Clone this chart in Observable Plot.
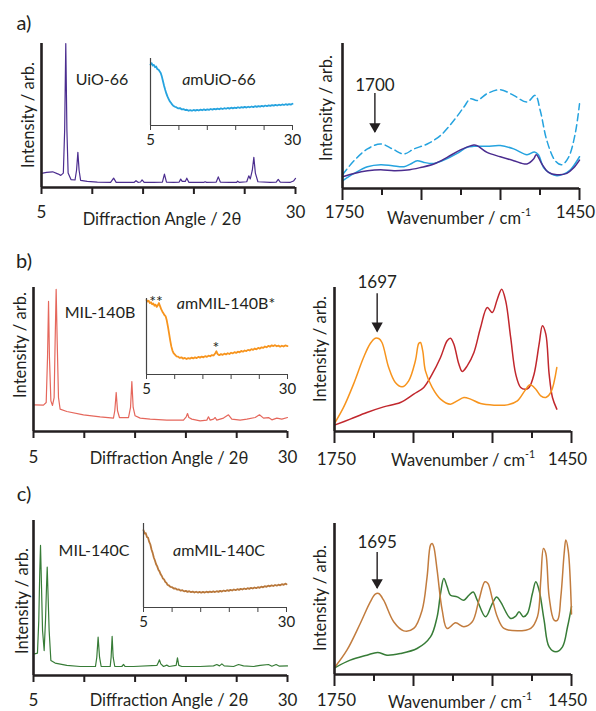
<!DOCTYPE html>
<html><head><meta charset="utf-8">
<script src="https://cdn.jsdelivr.net/npm/d3@7"></script>
<script src="https://cdn.jsdelivr.net/npm/@observablehq/plot@0.6"></script>
<style>
body{margin:0;background:#fff;}
#fig{position:relative;width:596px;height:711px;overflow:hidden;font-family:Lato,"Open Sans",sans-serif;color:#231f20;}
#fig svg{position:absolute;left:0;top:0;}
.lbl{position:absolute;white-space:nowrap;transform:translate(-50%,-50%);line-height:1;font-size:16.5px;}
.rot{transform:translate(-50%,-50%) rotate(-90deg);}
.name{font-size:16px;}
.big{font-size:20px;}
sup{font-size:10.5px;vertical-align:0;position:relative;top:-8px;}
</style></head><body><div id="fig"></div>
<script>
// ---------- DATA ----------
// XRD (2θ, intensity %) 
const xrdUiO66 = [[5,9.8],[5.5,10.5],[6.1,10.9],[6.6,9.5],[6.9,8.4],[7.15,10],[7.28,40],[7.39,100],[7.5,40],[7.62,10],[7.9,5.5],[8.3,5.2],[8.45,12],[8.58,24.4],[8.7,12],[8.85,5],[9.5,4.2],[10.5,3.8],[11.8,3.6],[12.1,6.5],[12.35,3.6],[13.5,3.5],[14.1,3.5],[14.3,4.7],[14.5,3.6],[14.75,3.8],[14.9,5.3],[15.1,3.6],[16,3.5],[16.9,3.8],[17.1,9.3],[17.3,3.8],[18,3.5],[18.55,3.8],[18.7,5.8],[18.85,4.2],[19.15,4.2],[19.3,6.5],[19.5,3.6],[20.5,3.5],[21,3.6],[21.1,4],[21.25,3.6],[22.2,3.8],[22.4,7.4],[22.6,3.8],[23.5,3.5],[24.2,3.6],[24.3,4.4],[24.45,3.6],[25.2,4],[25.4,8.1],[25.55,6],[25.75,12],[25.9,20.9],[26.05,10],[26.3,4],[27.5,3.5],[28.1,3.8],[28.3,5.6],[28.5,3.8],[29.5,3.6],[29.8,4.5],[30,6.3]];
const xrdAmUiO66 = [[5,91],[5.2,93],[5.4,89.5],[5.6,90.5],[5.8,87],[6,88],[6.2,84],[6.4,83.5],[6.6,81],[6.8,78.5],[7,73],[7.2,66],[7.4,59],[7.6,53],[7.8,47.5],[8,43],[8.2,39.5],[8.4,36],[8.6,34],[8.8,31.5],[9,29.5],[9.3,28],[9.6,27],[9.9,25.5],[10.2,26],[10.5,24],[10.8,24.5],[11.1,23],[11.4,23.5],[11.7,22],[12,23],[12.3,22],[12.6,23.2],[12.9,22.2],[13.2,23.4],[13.5,22.4],[13.8,23.6],[14.1,22.8],[14.4,24],[14.7,23],[15,24.2],[15.3,23.4],[15.6,24.6],[15.9,23.6],[16.2,24.8],[16.5,24],[16.8,25.2],[17.1,24.2],[17.4,25.6],[17.7,24.6],[18,25.8],[18.3,25],[18.6,26.2],[18.9,25.2],[19.2,26.6],[19.5,25.6],[19.8,26.8],[20.1,26],[20.4,27.2],[20.7,26.2],[21,27.4],[21.3,26.6],[21.6,27.8],[21.9,26.8],[22.2,28],[22.5,27.2],[22.8,28.4],[23.1,27.4],[23.4,28.8],[23.7,27.8],[24,29],[24.3,28.2],[24.6,29.4],[24.9,28.4],[25.2,29.8],[25.5,28.8],[25.8,30],[26.1,29.2],[26.4,30.4],[26.7,29.6],[27,30.8],[27.3,29.8],[27.6,31],[27.9,30.2],[28.2,31.4],[28.5,30.6],[28.8,31.8],[29.1,30.8],[29.4,32],[29.7,31.2],[30,32.4]];
const xrdMIL140B = [[5.1,18.5],[5.98,18.3],[6.25,20.1],[6.38,51.4],[6.48,90.3],[6.57,51.4],[6.71,21.3],[6.87,18.1],[7.03,23.6],[7.13,63],[7.23,98.8],[7.33,63],[7.46,23.6],[7.62,15.5],[8.28,13.9],[9.92,11.6],[11.56,10.2],[12.87,9.3],[13,14.4],[13.14,27.1],[13.27,14.4],[13.46,9.7],[14.35,9.7],[14.55,16.7],[14.68,34.7],[14.81,16.7],[15,10.9],[15.5,9.3],[16.48,8.6],[18.12,7.9],[19.76,7.9],[20.03,10.2],[20.16,12.5],[20.29,9.7],[20.58,8.6],[21.4,7.4],[22.06,7.9],[22.22,10.2],[22.39,7.9],[22.72,8.6],[22.88,9.7],[23.04,7.9],[23.7,9.3],[24.19,11.6],[24.52,8.6],[25.34,7.9],[26,8.6],[26.82,9.7],[27.24,11.6],[27.64,9.3],[28.13,9.7],[28.46,8.1],[28.95,9.3],[29.44,8.6],[30,9.7]];
const xrdAmMIL140B = [[5,98],[5.2,96],[5.4,97],[5.6,94],[5.8,95],[6,92.5],[6.2,93.5],[6.4,90.5],[6.6,92],[6.8,89],[7,91],[7.2,94],[7.4,90],[7.6,86],[7.8,83],[8,80.5],[8.2,78],[8.4,76.5],[8.6,71],[8.8,63],[9,54],[9.2,45],[9.4,37],[9.6,31.5],[9.8,28],[10,26.5],[10.3,24],[10.6,23.5],[10.9,21.8],[11.2,22.6],[11.5,20.8],[11.8,21.8],[12.1,20.4],[12.4,21.6],[12.7,20.8],[13,22.2],[13.3,21.2],[13.6,22.6],[13.9,21.6],[14.2,23.2],[14.5,22.2],[14.8,23.6],[15.1,22.6],[15.4,24.2],[15.7,23.2],[16,24.8],[16.3,24],[16.6,25.6],[16.9,25],[17.2,28],[17.4,30.5],[17.6,27],[17.9,25.4],[18.2,26.8],[18.5,25.8],[18.8,27.4],[19.1,26.4],[19.4,28],[19.7,27],[20,28.6],[20.3,27.8],[20.6,29.4],[20.9,28.4],[21.2,30],[21.5,29.2],[21.8,31],[22.1,30],[22.4,31.6],[22.7,30.8],[23,32.4],[23.3,31.6],[23.6,33.4],[23.9,32.4],[24.2,34.2],[24.5,33.2],[24.8,35],[25.1,34],[25.4,35.8],[25.7,35],[26,36.8],[26.3,35.8],[26.6,37.6],[26.9,36.6],[27.2,38.4],[27.5,37.4],[27.8,38.6],[28.1,37.2],[28.4,38],[28.7,36.6],[29,37.8],[29.3,36.8],[29.6,38.2],[30,37.4]];
const xrdMIL140C = [[5.1,14],[5.39,14.4],[5.52,35.5],[5.62,67.7],[5.69,83.9],[5.75,67.7],[5.89,29],[6.05,16.1],[6.18,35.5],[6.28,57],[6.35,69.9],[6.41,57],[6.54,29],[6.71,9.7],[7.13,8],[8.28,6.5],[9.59,5.8],[11.1,5.8],[11.23,11.8],[11.36,24.7],[11.5,11.8],[11.66,5.8],[12.55,5.8],[12.64,11.8],[12.74,25.2],[12.84,11.8],[13,5.8],[13.69,5.8],[13.86,7.1],[14.02,5.8],[14.84,5.8],[17.14,6.5],[17.3,8.6],[17.4,10.1],[17.53,7.5],[17.8,5.8],[18.12,6.7],[18.35,5.8],[19.04,6.5],[19.17,11.4],[19.3,6.5],[19.6,5.8],[21.4,5.8],[22.72,6.2],[23.04,7.1],[23.31,6.2],[23.54,7.5],[23.77,6.2],[24.69,5.8],[25.18,7.1],[25.67,6.2],[26.65,5.8],[27.31,6.5],[28.13,7.1],[28.46,6],[28.88,7.1],[29.21,6],[30,6.2]];
const xrdAmMIL140C = [[5,92],[5.2,88],[5.4,88.5],[5.6,84],[5.8,83],[6,78],[6.2,75],[6.4,69],[6.6,65],[6.8,59.5],[7,56],[7.2,51.5],[7.4,49],[7.6,45],[7.8,43],[8,39.5],[8.2,37.5],[8.4,34.5],[8.6,33.5],[8.8,30.5],[9,29.5],[9.2,27],[9.4,26.5],[9.7,24.5],[10,24.2],[10.3,22.6],[10.6,22.8],[10.9,21.2],[11.2,21.6],[11.5,20],[11.8,20.6],[12.1,19.2],[12.4,19.8],[12.7,18.6],[13,19.4],[13.3,18.2],[13.6,19],[13.9,17.8],[14.2,18.8],[14.5,17.8],[14.8,18.6],[15.1,17.6],[15.4,18.6],[15.7,17.8],[16,18.8],[16.3,18],[16.6,19],[16.9,18.2],[17.2,19.2],[17.5,18.4],[17.8,19.4],[18.1,18.6],[18.4,19.8],[18.7,19],[19,20.2],[19.3,19.4],[19.6,20.6],[19.9,19.8],[20.2,21],[20.5,20.2],[20.8,21.4],[21.1,20.6],[21.4,21.8],[21.7,21],[22,22.2],[22.3,21.4],[22.6,22.6],[22.9,21.8],[23.2,23],[23.5,22.2],[23.8,23.4],[24.1,22.6],[24.4,23.8],[24.7,23],[25,24.2],[25.3,23.4],[25.6,24.8],[25.9,24],[26.2,25.4],[26.5,24.6],[26.8,26],[27.1,25.2],[27.4,26.4],[27.7,25.6],[28,26.8],[28.3,26],[28.6,27.2],[28.9,26.4],[29.2,27.8],[29.5,27],[29.8,28.4],[30,27.6]];

// IR (wavenumber cm-1, intensity %)
const irUiO66 = [[1750,8.1],[1735.3,10.4],[1718.4,12.2],[1701.6,12.9],[1684.8,12.2],[1668,12.7],[1651.1,14.5],[1634.3,16.9],[1617.5,21.5],[1600.7,26.6],[1583.8,30],[1579.6,29.6],[1567,24.9],[1550.2,21.9],[1533.3,19.2],[1516.5,16.9],[1508.1,20.3],[1504.7,23.3],[1497.6,16.9],[1489.2,11.1],[1478.6,9.5],[1466,10.4],[1457.6,14.1],[1450,19.6]];
const irAmUiO66 = [[1750,5.3],[1735.3,10.4],[1718.4,15],[1701.6,16.4],[1686.9,15.7],[1672.2,15],[1663.8,16.9],[1655.3,19.2],[1646.9,18],[1634.3,17.3],[1621.7,19.6],[1604.8,24.2],[1592.2,28.4],[1583.8,29.1],[1567,29.1],[1550.2,29.6],[1533.3,27.3],[1516.5,23.3],[1507,25.2],[1502,23.3],[1495.5,14.5],[1487.1,10.4],[1478.6,8.8],[1470.2,9.9],[1461.8,12.7],[1450,21.9]];
const irAmUiO66b = [[1750,9.5],[1735.3,19.2],[1718.4,27.3],[1701.6,30.7],[1686.9,27.3],[1672.2,23.8],[1659.5,27.3],[1642.7,30.7],[1626.1,36.5],[1609.1,46.9],[1596.4,56.1],[1588,61.9],[1579.6,60.7],[1567,65.4],[1550.2,68.1],[1533.3,64.2],[1516.5,59.6],[1506,64.2],[1499.7,53.8],[1491.3,33],[1480.8,19.2],[1472.3,16.4],[1463.9,21.5],[1455.5,37.6],[1450,58.4]];
const irMIL140B = [[1749.2,4.6],[1730.1,8.6],[1709,13.2],[1687.8,17.1],[1666.6,20.1],[1649.7,25.9],[1637,30.6],[1626.4,39.8],[1615.8,51.4],[1607.4,63],[1603.2,64.8],[1598.9,60.6],[1592.6,46.8],[1588.3,41.7],[1582,45.6],[1573.5,54.9],[1565.1,72.2],[1556.6,86.1],[1550.3,82.6],[1543.9,91.9],[1538.4,98.8],[1533.3,90.7],[1527,65.3],[1520.6,39.8],[1514.3,30.6],[1507.9,29.4],[1503.7,30.6],[1497.4,39.8],[1491,60.6],[1486.8,73.4],[1482.5,67.6],[1478.3,39.8],[1474.1,23.6],[1468.6,15.5]];
const irAmMIL140B = [[1749.2,6.3],[1738.6,16.7],[1725.9,32.9],[1713.2,51.4],[1704.7,61.1],[1698.4,64.8],[1694.1,64.6],[1689.9,61.8],[1681.4,44.4],[1673,34],[1664.5,31],[1656.1,35.2],[1647.6,49.1],[1643.4,61.1],[1641.2,61.8],[1638.3,56],[1634.9,42.1],[1626.4,30.6],[1615.8,22.5],[1603.2,19],[1594.7,21.3],[1586.2,23.6],[1577.8,22.5],[1565.1,19.4],[1548.1,18.3],[1531.2,18.5],[1518.5,21.3],[1509.2,28.2],[1502.4,32.4],[1495.2,29.4],[1488.9,24.8],[1482.5,23.6],[1476.2,27.1],[1468.6,44.4]];
const irMIL140C = [[1749.2,4.6],[1730.1,9.5],[1709,12.8],[1695.4,14.6],[1683.6,12.8],[1666.6,13.9],[1645.5,17.2],[1628.5,24.9],[1620.1,38.2],[1615.8,53.6],[1611.6,63.6],[1607.4,58.1],[1603.2,52.5],[1594.7,51.4],[1586.2,49.2],[1579.9,52.5],[1574.4,54.7],[1569.3,49.2],[1558.7,38.2],[1550.3,47],[1544.8,51.4],[1539.7,48.1],[1527,37.1],[1520.6,38.6],[1516.4,41.5],[1510.9,38.2],[1505.8,40.4],[1499.5,53.6],[1495.2,61.4],[1491,55.8],[1484.7,36],[1478.3,18.3],[1469.8,15],[1461.4,18.3],[1455,31.6],[1450,45]];
const irAmMIL140C = [[1749.2,5.1],[1734.3,16.1],[1717.4,33.8],[1704.7,48.1],[1698.4,53.2],[1694.1,53.6],[1687.8,49.2],[1675.1,34.9],[1662.4,28.9],[1649.7,30.5],[1639.1,42.6],[1632.8,64.7],[1628.5,85.7],[1626.4,86.8],[1624.3,84.5],[1620.1,69.1],[1613.7,42.6],[1607.4,30.5],[1596.8,34.2],[1586.2,31.6],[1575.6,34.9],[1567.2,49.2],[1559.6,61.4],[1555.8,60.3],[1550.3,50.3],[1543.9,38.2],[1535.5,30.5],[1518.5,28.9],[1501.6,30.5],[1493.1,38.2],[1488.9,62.5],[1485.5,83.4],[1482.5,80.1],[1478.3,51.4],[1472,36],[1467.7,36],[1463.5,51.4],[1459.3,80.1],[1457.2,89],[1454.2,82.3],[1450,40]];

// annotations: label, wavenumber, text y, arrow top, arrow tip
const annA = [{label:"1700", x:1709, yText:71, yTop:65.5, yTip:38.6}];
const annB = [{label:"1697", x:1696, yText:103.3, yTop:95.6, yTip:69.2}];
const annC = [{label:"1695", x:1696, yText:87.4, yTop:80.8, yTip:57}];

const xrdTicks = [5,10,15,20,25,30];
const xrdEnds = [5,30];
const irShort = [1700,1600,1500];
const irLong = [1750,1650,1550,1450];
const irStart = [1750];
const irEnd = [1450];

// ---------- DRAW ----------
const ink = "#231f20";
const fig = document.getElementById("fig");
const X = d => d[0], Y = d => d[1];

function frame(box, xdom, marks) {
  return Plot.plot({
    width: 596, height: 711,
    marginLeft: box[0], marginRight: 596 - box[1], marginTop: box[2], marginBottom: 711 - box[3],
    x: {domain: xdom, axis: null}, y: {domain: [0, 100], axis: null},
    style: {background: "transparent", fontFamily: "Lato, sans-serif", fontSize: "17px", color: ink, overflow: "visible"},
    marks
  });
}
function xrdAxes(pad) {
  return [
    Plot.axisX({ticks: xrdTicks, tickSize: 7, strokeWidth: 2, stroke: ink, tickFormat: () => "", label: null}),
    Plot.axisX({ticks: xrdEnds, tickSize: 0, tickPadding: pad, fontSize: 17, fill: ink, tickFormat: d => String(d), label: null}),
    Plot.ruleX([5], {stroke: ink, strokeWidth: 2.6}),
    Plot.ruleY([0], {stroke: ink, strokeWidth: 2.6})
  ];
}
function insetAxes() {
  return [
    Plot.axisX({ticks: xrdTicks, tickSize: 5, strokeWidth: 1, stroke: "#444", tickFormat: () => "", label: null}),
    Plot.axisX({ticks: xrdEnds, tickSize: 0, tickPadding: 9, fontSize: 15, fill: ink, tickFormat: d => String(d), label: null}),
    Plot.ruleX([5], {stroke: "#444", strokeWidth: 1.2}),
    Plot.ruleY([0], {stroke: "#444", strokeWidth: 1.2})
  ];
}
function irAxes(pad) {
  return [
    Plot.axisX({ticks: irShort, tickSize: 7, strokeWidth: 2, stroke: ink, tickFormat: () => "", label: null}),
    Plot.axisX({ticks: irLong, tickSize: 12, strokeWidth: 2, stroke: ink, tickFormat: () => "", label: null}),
    Plot.axisX({ticks: irStart, tickSize: 0, tickPadding: pad, fontSize: 17, fill: ink, dx: 2, tickFormat: d => String(d), label: null}),
    Plot.axisX({ticks: irEnd, tickSize: 0, tickPadding: pad, fontSize: 17, fill: ink, dx: -4, tickFormat: d => String(d), label: null}),
    Plot.ruleX([1750], {stroke: ink, strokeWidth: 2.6}),
    Plot.ruleY([0], {stroke: ink, strokeWidth: 2.6})
  ];
}
function arrow(ann) {
  return [
    Plot.ruleX(ann, {x: "x", y1: "yTop", y2: "yTip", stroke: ink, strokeWidth: 1.4}),
    Plot.dot(ann, {x: "x", y: "yTip", symbol: "triangle", r: 4.2, fill: ink, stroke: null, rotate: 180, dy: -6}),
    Plot.text(ann, {x: "x", y: "yText", text: "label", fontSize: 17, fill: ink})
  ];
}
const line = (data, stroke, extra = {}) => Plot.line(data, {x: X, y: Y, stroke, strokeWidth: 1.3, ...extra});

const plots = [
  // a) XRD
  frame([41, 295, 43, 187], [5, 30], [line(xrdUiO66, "#4b2d8f", {strokeWidth: 1.2}), ...xrdAxes(18)]),
  frame([150, 292, 58, 125], [5, 30], [line(xrdAmUiO66, "#25a3df", {strokeWidth: 1.8}), ...insetAxes()]),
  // a) IR
  frame([342, 579, 43, 188], [1750, 1450], [
    line(irAmUiO66b, "#25a3df", {strokeWidth: 1.5, strokeDasharray: "7,4", curve: "catmull-rom"}),
    line(irAmUiO66, "#25a3df", {strokeWidth: 1.5, curve: "catmull-rom"}),
    line(irUiO66, "#4b2d8f", {strokeWidth: 1.5, curve: "catmull-rom"}),
    ...arrow(annA), ...irAxes(17)]),
  // b) XRD
  frame([33, 287, 287, 431], [5, 30], [line(xrdMIL140B, "#e5675c", {strokeWidth: 1.2}), ...xrdAxes(19)]),
  frame([146, 287, 298, 374], [5, 30], [line(xrdAmMIL140B, "#f7941d", {strokeWidth: 1.8}), ...insetAxes()]),
  // b) IR
  frame([334, 571, 287, 431], [1750, 1450], [
    line(irMIL140B, "#c1272d", {strokeWidth: 1.5, curve: "catmull-rom"}),
    line(irAmMIL140B, "#f7941d", {strokeWidth: 1.5, curve: "catmull-rom"}),
    ...arrow(annB), ...irAxes(21)]),
  // c) XRD
  frame([33, 287, 520, 675], [5, 30], [line(xrdMIL140C, "#377c37", {strokeWidth: 1.2}), ...xrdAxes(18)]),
  frame([143, 286, 523, 607], [5, 30], [line(xrdAmMIL140C, "#b8773a", {strokeWidth: 1.8}), ...insetAxes()]),
  // c) IR
  frame([334, 571, 523, 674], [1750, 1450], [
    line(irMIL140C, "#377c37", {strokeWidth: 1.5, curve: "catmull-rom"}),
    line(irAmMIL140C, "#c27c3e", {strokeWidth: 1.5, curve: "catmull-rom"}),
    ...arrow(annC), ...irAxes(19)])
];
plots.forEach(p => fig.appendChild(p));

// ---------- TEXT ----------
const labels = [
  ["a)", 24, 22, "big"], ["b)", 24, 260, "big"], ["c)", 24, 493, "big"],
  ["Intensity / arb.", 28, 115, "rot"], ["Intensity / arb.", 326, 108, "rot"],
  ["Intensity / arb.", 20, 345, "rot"], ["Intensity / arb.", 320, 349, "rot"],
  ["Intensity / arb.", 22, 601, "rot"], ["Intensity / arb.", 320, 598, "rot"],
  ["Diffraction Angle / 2θ", 162, 219, ""], ["Diffraction Angle / 2θ", 169, 458, ""], ["Diffraction Angle / 2θ", 169, 700, ""],
  ["Wavenumber / cm<sup>-1</sup>", 459, 218, ""], ["Wavenumber / cm<sup>-1</sup>", 463, 460, ""], ["Wavenumber / cm<sup>-1</sup>", 460, 702, ""],
  ["UiO-66", 102, 79, "name"], ["<i>a</i>mUiO-66", 219, 79, "name"],
  ["MIL-140B", 100, 312, "name"], ["<i>a</i>mMIL-140B*", 226, 303, "name"], ["**", 156, 301, "name"], ["*", 216, 347, "name"],
  ["MIL-140C", 94, 550, "name"], ["<i>a</i>mMIL-140C", 219, 550, "name"]
];
labels.forEach(([t, x, y, c]) => {
  const d = document.createElement("div");
  d.className = "lbl " + c;
  d.style.left = x + "px"; d.style.top = y + "px";
  d.innerHTML = t;
  fig.appendChild(d);
});
</script></body></html>
